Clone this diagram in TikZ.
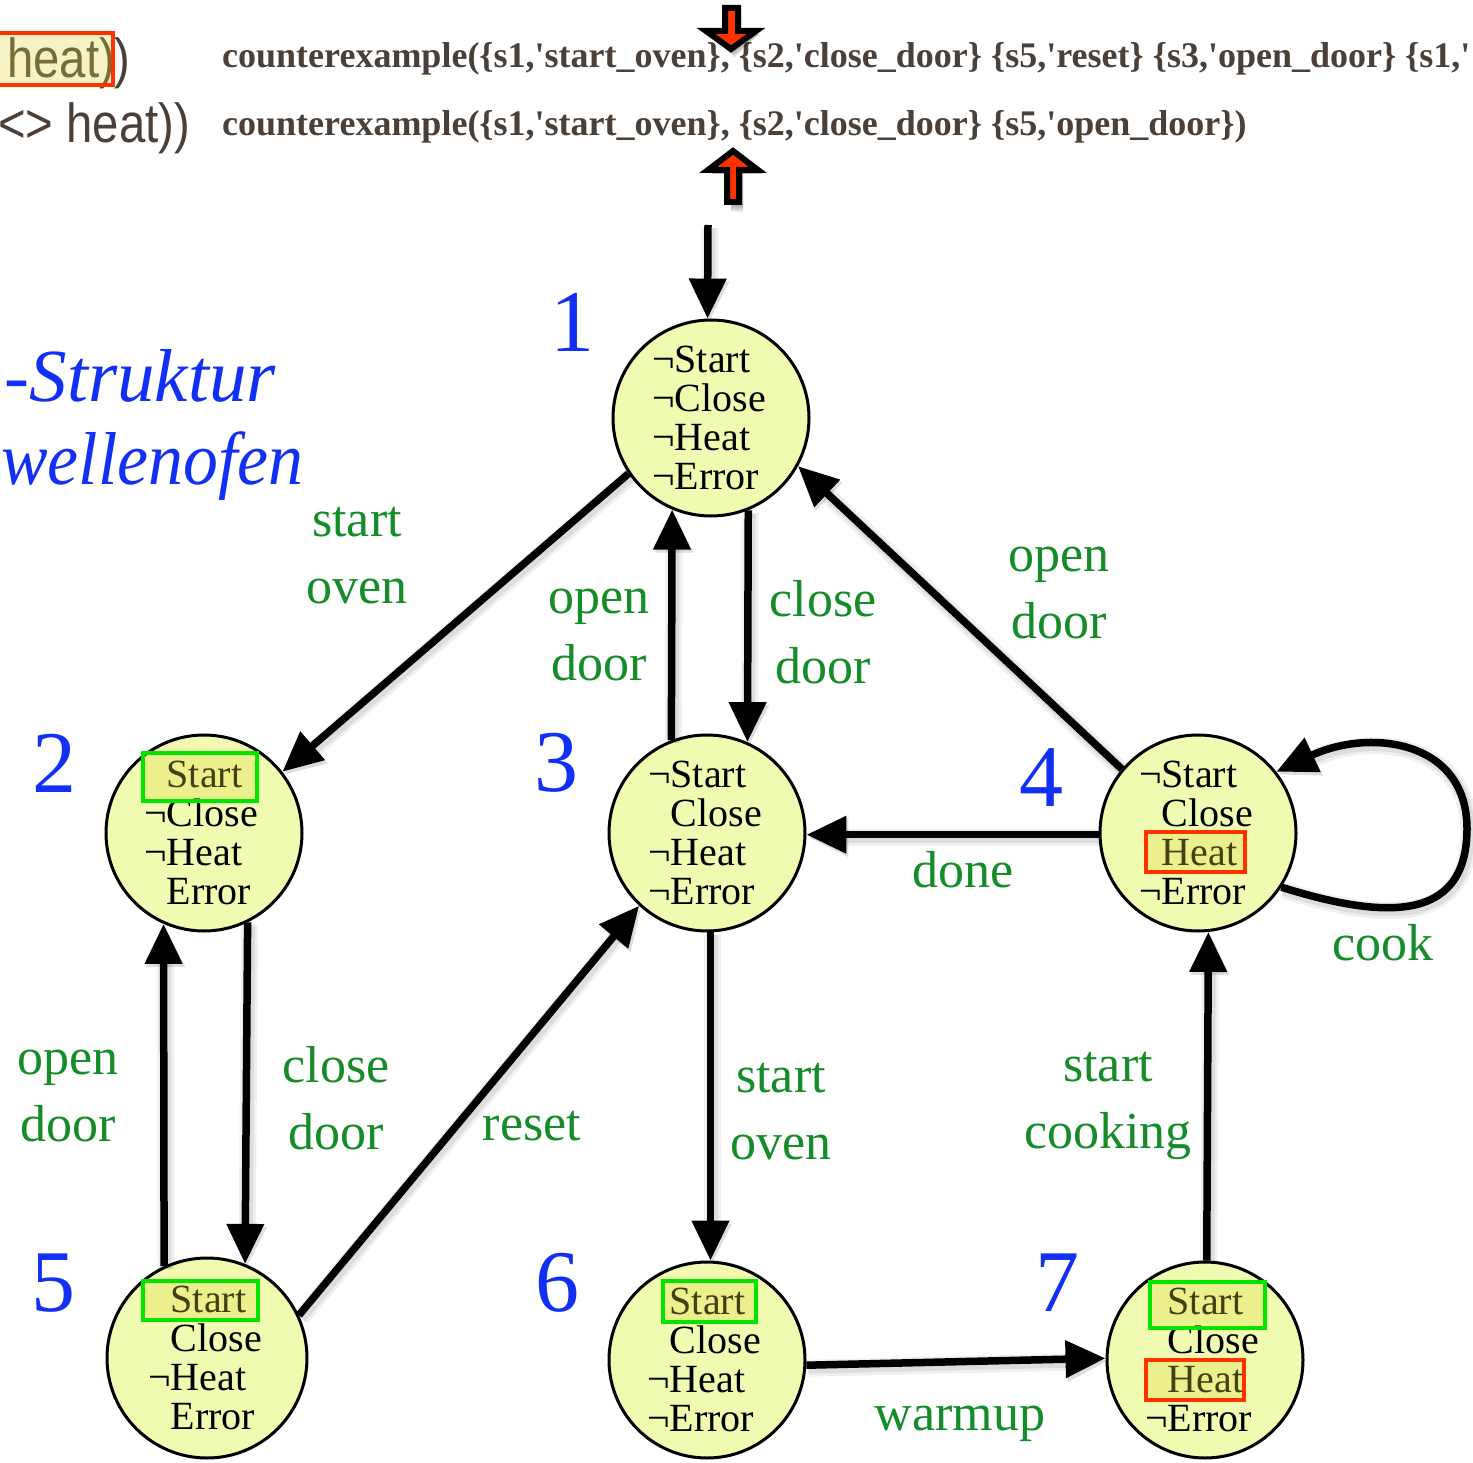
\documentclass[tikz,border=0pt]{standalone}
\usepackage{fontspec}
\setmainfont{Liberation Serif}
\newfontfamily\hsans{Liberation Sans}
\usetikzlibrary{arrows.meta}
\definecolor{statefill}{RGB}{240,250,176}
\definecolor{lblgreen}{RGB}{20,140,40}
\definecolor{numblue}{RGB}{18,48,245}
\definecolor{boxgreen}{RGB}{0,228,0}
\definecolor{boxred}{RGB}{255,50,0}
\definecolor{hlfill}{RGB}{225,215,60}
\definecolor{ctext}{RGB}{74,64,56}
\newcommand{\negsp}{\phantom{¬}}
\pgfdeclarelayer{bg}
\pgfsetlayers{bg,main}
\tikzset{
  state/.style={circle,draw=black,line width=3pt,fill=statefill,minimum size=196pt,inner sep=0pt},
  stxt/.style={align=left,inner sep=0pt,font=\fontsize{40}{39}\selectfont,text=black},
  edge/.style={line width=7.5pt,-{Triangle[length=40pt,width=36pt]},
    preaction={draw=black,opacity=0.06,line width=17pt,transform canvas={shift={(2pt,-3pt)}}},
    preaction={draw=black,opacity=0.08,line width=11pt,transform canvas={shift={(2pt,-3pt)}}}},
  lbl/.style={align=center,inner sep=0pt,font=\fontsize{52}{67}\selectfont,text=lblgreen},
  num/.style={inner sep=0pt,font=\fontsize{88}{88}\selectfont,text=numblue},
  hlg/.style={draw=boxgreen,line width=3.5pt,fill=hlfill,fill opacity=0.3},
  hlr/.style={draw=boxred,line width=3.5pt,fill=hlfill,fill opacity=0.3},
  bigarrow/.style={fill={rgb,255:red,255;green,50;blue,0},draw=black,line width=6pt,line join=miter},
}
\begin{document}
\begin{tikzpicture}[x=1pt,y=-1pt]
\useasboundingbox (0,0) rectangle (1473,1463);
\clip (0,0) rectangle (1473,1463);
\fill[white] (0,0) rectangle (1473,1463);

% ---- top formula fragments ----
\node[anchor=base west,inner sep=0pt,font=\hsans\fontsize{55}{55}\selectfont,text=ctext,xscale=0.86] (f1) at (7,78) {heat))};
\node[anchor=base west,inner sep=0pt,font=\hsans\fontsize{55}{55}\selectfont,text=ctext,xscale=0.86] (f2) at (-2,143) {<> heat))};
\draw[hlr] (-4,33) rectangle (113,85);

\node[anchor=base west,inner sep=0pt,font=\bfseries\fontsize{36}{36}\selectfont,text=ctext] (c1) at (222,68)
  {counterexample(\{s1,\textquotesingle start\_oven\}, \{s2,\textquotesingle close\_door\} \{s5,\textquotesingle reset\} \{s3,\textquotesingle open\_door\} \{s1,\textquotesingle};
\node[anchor=base west,inner sep=0pt,font=\bfseries\fontsize{36}{36}\selectfont,text=ctext] (c2) at (222,136)
  {counterexample(\{s1,\textquotesingle start\_oven\}, \{s2,\textquotesingle close\_door\} \{s5,\textquotesingle open\_door\})};

% red block arrows
\foreach \k in {1,...,6}{
  \fill[black,opacity=0.05] ([shift={(3,3)}]725,8) -- ++(13,0) -- ++(0,23) -- ++(18,0) -- ++(-25,18+\k) -- ++(-25,-18-\k) -- ++(19,0) -- cycle;
}
\draw[bigarrow] (725,8) -- (738,8) -- (738,31) -- (756,31) -- (731,49) -- (706,31) -- (725,31) -- cycle;
\foreach \k in {1,...,6}{
  \fill[black,opacity=0.05] ([shift={(4,4)}]733,151) -- ++(25,19) -- ++(-19,0) -- ++(0,32+\k) -- ++(-12,0) -- ++(0,-32-\k) -- ++(-19,0) -- cycle;
}
\draw[bigarrow] (733,151) -- (758,170) -- (739,170) -- (739,202) -- (727,202) -- (727,170) -- (708,170) -- cycle;

% ---- title (visible parts) ----
\node[anchor=base east,inner sep=0pt,font=\itshape\fontsize{75}{75}\selectfont,text=numblue] (t1) at (276,401) {-Struktur};
\node[anchor=base west,inner sep=0pt,font=\itshape\fontsize{75}{75}\selectfont,text=numblue,xscale=0.93] (t2) at (1,484) {wellenofen};

% ---- states ----
\node[state] (s1) at (711,418) {};
\node[state] (s2) at (204,833) {};
\node[state] (s3) at (707,833) {};
\node[state] (s4) at (1198,833) {};
\node[state,minimum size=200pt] (s5) at (207,1358) {};
\node[state] (s6) at (707,1360) {};
\node[state] (s7) at (1205,1360) {};

\begin{pgfonlayer}{bg}
\foreach \n in {s1,s2,s3,s4,s5,s6,s7}{
  \foreach \k in {1,...,8}{
    \fill[black,opacity=0.05] ([shift={(2,3)}]\n.center) circle[radius={99pt+1.6pt*\k}];
  }
}
\end{pgfonlayer}

\node[stxt] (x1) at ([xshift=-2pt]s1) {¬Start\\¬Close\\¬Heat\\¬Error};
\node[stxt] (x2) at ([xshift=-3pt]s2) {\negsp Start\\¬Close\\¬Heat\\\negsp Error};
\node[stxt] (x3) at ([xshift=-2pt]s3) {¬Start\\\negsp Close\\¬Heat\\¬Error};
\node[stxt] (x4) at ([xshift=-2pt]s4) {¬Start\\\negsp Close\\\negsp Heat\\¬Error};
\node[stxt] (x5) at ([xshift=-2pt]s5) {\negsp Start\\\negsp Close\\¬Heat\\\negsp Error};
\node[stxt] (x6) at ([xshift=-3pt]s6) {\negsp Start\\\negsp Close\\¬Heat\\¬Error};
\node[stxt] (x7) at ([xshift=-3pt]s7) {\negsp Start\\\negsp Close\\\negsp Heat\\¬Error};

% highlight boxes
\draw[hlg] (143,753) rectangle (257,801);
\draw[hlg] (143,1281) rectangle (258,1320);
\draw[hlg] (663,1281) rectangle (756,1322);
\draw[hlg] (1150,1282) rectangle (1265,1328);
\draw[hlr] (1146,832) rectangle (1245,872);
\draw[hlr] (1146,1360) rectangle (1244,1400);

% numbers
\node[num] (n1) at (572,322) {1};
\node[num] (n2) at (54,763) {2};
\node[num] (n3) at (556,763) {3};
\node[num] (n4) at (1041,778) {4};
\node[num] (n5) at (53,1283) {5};
\node[num] (n6) at (557,1283) {6};
\node[num] (n7) at (1057,1283) {7};

% ---- edges ----
\coordinate (init) at (708,225);
\coordinate (loopR) at (1467,830);
\draw[edge] (init) -- (s1.92);
\draw[edge] (s1.214) -- (s2.38);
\draw[edge] (s3.111) -- (s1.-113);
\draw[edge] (s1.-68) -- (s3.66);
\draw[edge] (s4.140) -- (s1.-29);
\draw[edge] (s4.181) -- (s3.-1);
\draw[edge] (s4.-33) .. controls (1380,918) and (1466,925) .. (loopR) .. controls (1468,740) and (1370,728) .. (s4.38);
\draw[edge] (s5.115) -- (s2.-114);
\draw[edge] (s2.-64) -- (s5.68);
\draw[edge] (s5.25) -- (s3.-133);
\draw[edge] (s3.-88) -- (s6.88);
\draw[edge] (s6.-3) -- (s7.179);
\draw[edge] (s7.89) -- (s4.-84);

% ---- labels ----
\node[lbl] (l1) at (357,556) {start\\oven};
\node[lbl] (l2) at (599,635) {open\\door};
\node[lbl] (l3) at (823,632) {close\\door};
\node[lbl] (l4) at (1059,593) {open\\door};
\node[lbl] (l5) at (963,870) {done};
\node[lbl] (l6) at (1383,943) {cook};
\node[lbl] (l7) at (68,1096) {open\\door};
\node[lbl] (l8) at (336,1098) {close\\door};
\node[lbl] (l9) at (532,1126) {reset};
\node[lbl] (l10) at (781,1112) {start\\oven};
\node[lbl] (l11) at (1108,1106) {start\\cooking};
\node[lbl] (l12) at (960,1424) {warmup};
\end{tikzpicture}
\end{document}
